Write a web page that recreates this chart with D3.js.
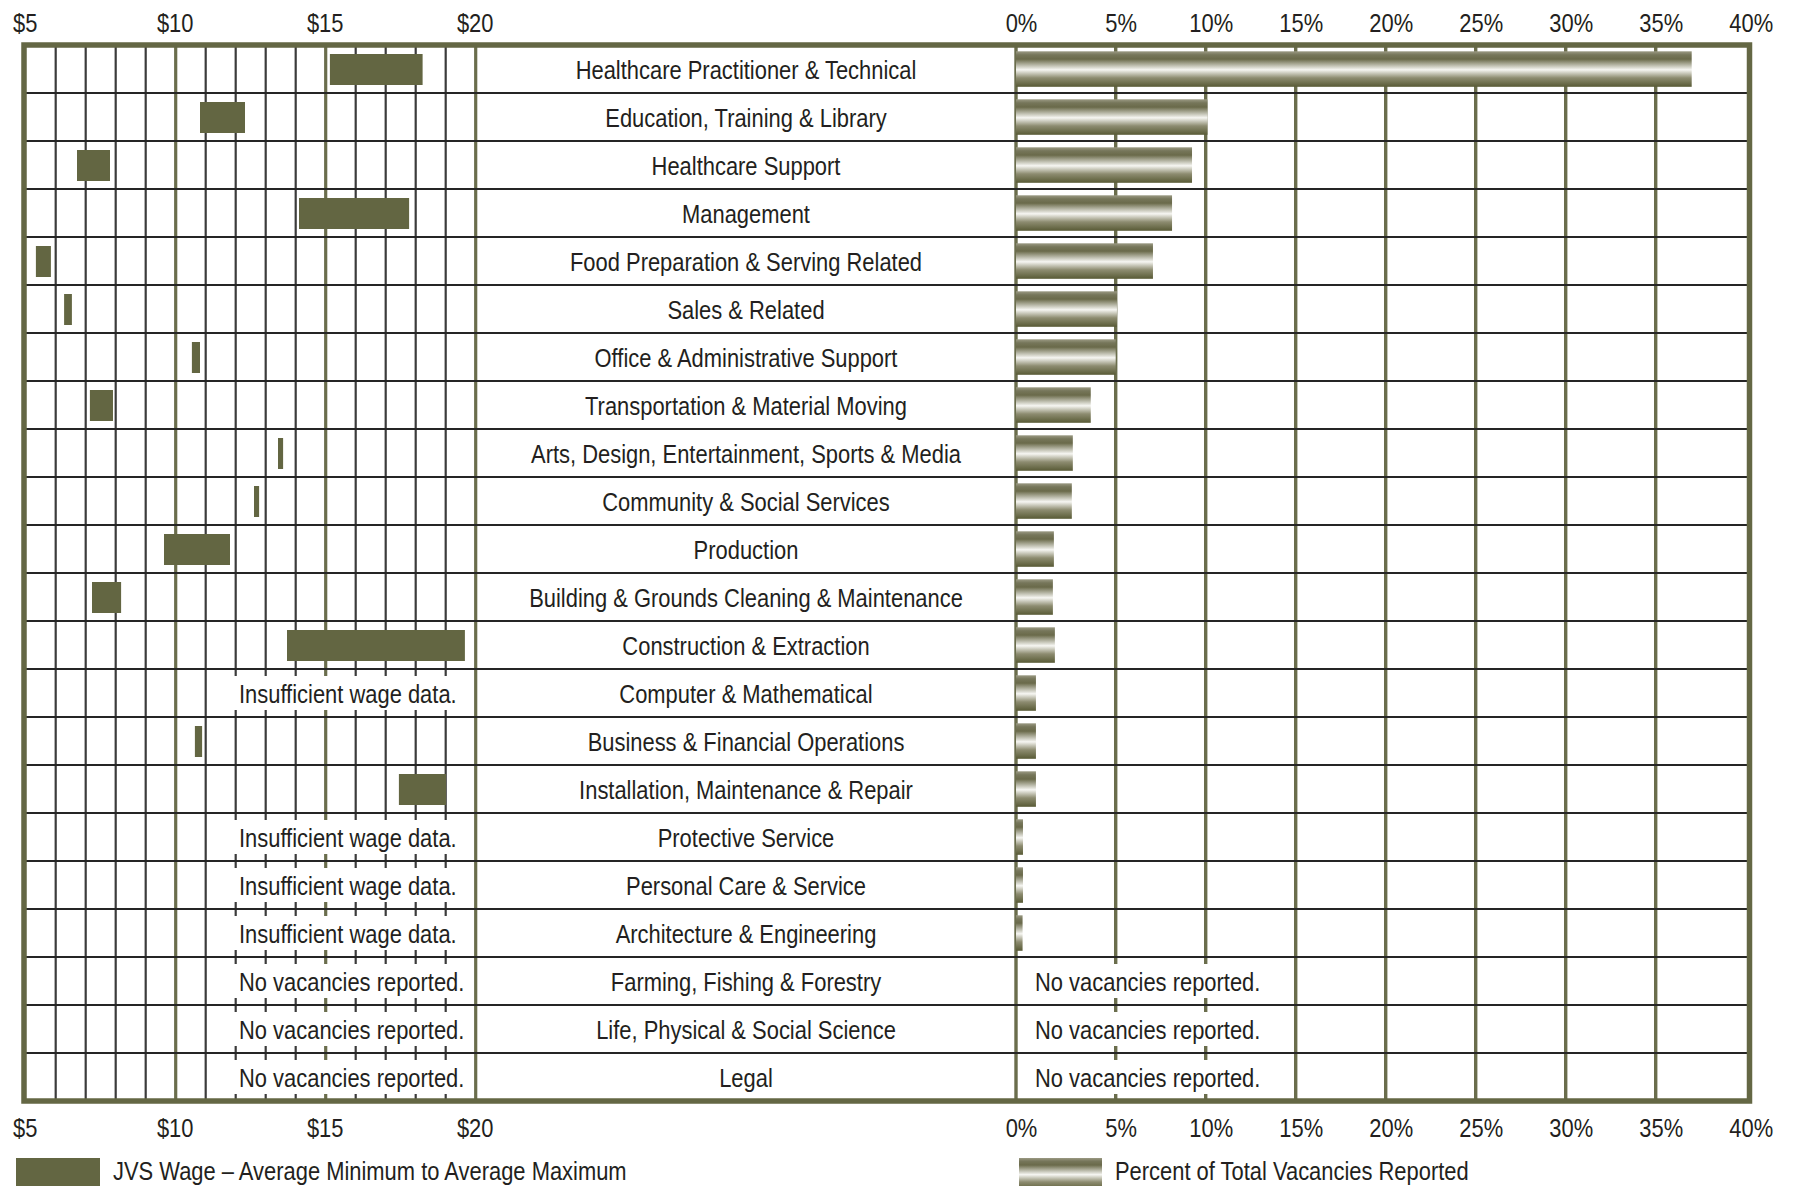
<!DOCTYPE html>
<html>
<head>
<meta charset="utf-8">
<script src="https://cdn.jsdelivr.net/npm/d3@7"></script>
<style>
  html, body { margin: 0; padding: 0; background: #fff; }
  svg { display: block; }
  text { font-family: "Liberation Sans", Arial, Helvetica, sans-serif; fill: #231f20; }
</style>
</head>
<body>
<svg id="chart" width="1796" height="1186"></svg>
<script>
// Occupational groups, ordered by share of vacancies
const categories = [
  "Healthcare Practitioner & Technical",
  "Education, Training & Library",
  "Healthcare Support",
  "Management",
  "Food Preparation & Serving Related",
  "Sales & Related",
  "Office & Administrative Support",
  "Transportation & Material Moving",
  "Arts, Design, Entertainment, Sports & Media",
  "Community & Social Services",
  "Production",
  "Building & Grounds Cleaning & Maintenance",
  "Construction & Extraction",
  "Computer & Mathematical",
  "Business & Financial Operations",
  "Installation, Maintenance & Repair",
  "Protective Service",
  "Personal Care & Service",
  "Architecture & Engineering",
  "Farming, Fishing & Forestry",
  "Life, Physical & Social Science",
  "Legal"
];

// JVS wage range: average minimum and average maximum hourly wage ($)
const wageMin = [15.14, 10.81, 6.71, 14.11, 5.34, 6.28, 10.54, 7.14, 13.41, 12.61, 9.61, 7.21, 13.71, null, 10.64, 17.44, null, null, null, null, null, null];
const wageMax = [18.23, 12.31, 7.81, 17.78, 5.84, 6.54, 10.81, 7.91, 13.58, 12.78, 11.81, 8.18, 19.64, null, 10.88, 19.01, null, null, null, null, null, null];

// Percent of total vacancies reported
const pctVacancies = [37.0, 10.1, 9.24, 8.13, 7.07, 5.07, 5.0, 3.75, 2.85, 2.8, 1.9, 1.85, 1.95, 1.0, 1.0, 1.0, 0.35, 0.35, 0.33, null, null, null];

// Notes shown where there is no bar
const wageNotes = [null, null, null, null, null, null, null, null, null, null, null, null, null,
  "Insufficient wage data.", null, null,
  "Insufficient wage data.", "Insufficient wage data.", "Insufficient wage data.",
  "No vacancies reported.", "No vacancies reported.", "No vacancies reported."];
const pctNotes = [null, null, null, null, null, null, null, null, null, null, null, null, null,
  null, null, null, null, null, null,
  "No vacancies reported.", "No vacancies reported.", "No vacancies reported."];

// Axis ticks
const wageTicks = [5, 10, 15, 20];
const wageGrid = d3.range(6, 21);
const pctTicks = [0, 5, 10, 15, 20, 25, 30, 35, 40];
const pctGrid = [0, 5, 10, 15, 20, 25, 30, 35];

// Legend entries
const legendWage = "JVS Wage \u2013 Average Minimum to Average Maximum";
const legendPct = "Percent of Total Vacancies Reported";

const OLIVE = "#636642";
const FRAME = "#646744";
const FS = 25.5;   // font size
const SX = 0.86;   // horizontal squeeze for a condensed look

const svg = d3.select("#chart");

const plotTop = 45, plotBottom = 1101;
const frameL = 24, frameR = 1749.5;

const xWage = d3.scaleLinear().domain([5, 20]).range([25.7, 475.7]);
const xPct = d3.scaleLinear().domain([0, 5, 40]).range([1016, 1115.7, 1745.7]);
const y = d3.scaleBand().domain(categories).range([plotTop, plotBottom]);
const rowH = y.bandwidth();

// place a condensed text at (x, y)
const at = (x, yy) => `translate(${x},${yy}) scale(${SX},1)`;

// Gradient for the vacancy bars
const defs = svg.append("defs");
const grad = defs.append("linearGradient")
  .attr("id", "barGrad").attr("x1", 0).attr("y1", 0).attr("x2", 0).attr("y2", 1);
[
  [0, "#9b9a84"], [0.1, "#76765a"], [0.22, "#6a6a4a"], [0.52, "#f6f6f2"],
  [0.75, "#8d8c70"], [1, "#585a35"]
].forEach(([o, c]) => grad.append("stop").attr("offset", o).attr("stop-color", c));

const grid = svg.append("g");

// Wage grid: minor dollar lines and major $5 lines
grid.selectAll("line.wage").data(wageGrid).join("line")
  .attr("class", "wage")
  .attr("x1", d => xWage(d)).attr("x2", d => xWage(d))
  .attr("y1", plotTop).attr("y2", plotBottom)
  .attr("stroke", d => d % 5 === 0 ? "#6a6d4c" : "#3b3b3b")
  .attr("stroke-width", d => d % 5 === 0 ? 3.2 : 2.2);

// Percent grid
grid.selectAll("line.pct").data(pctGrid).join("line")
  .attr("class", "pct")
  .attr("x1", d => xPct(d)).attr("x2", d => xPct(d))
  .attr("y1", plotTop).attr("y2", plotBottom)
  .attr("stroke", "#6a6d4c")
  .attr("stroke-width", 3.4);

// White backing behind the notes, leaving short grid ticks at the row edges
const noteRows = svg.append("g");
categories.forEach((c, i) => {
  if (wageNotes[i]) {
    noteRows.append("rect")
      .attr("x", xWage(11) + 6).attr("y", y(c) + 7)
      .attr("width", xWage(19.8) - xWage(11) - 6).attr("height", rowH - 14)
      .attr("fill", "#fff");
  }
  if (pctNotes[i]) {
    noteRows.append("rect")
      .attr("x", xPct(0) + 3).attr("y", y(c) + 7)
      .attr("width", xPct(13.5) - xPct(0) - 3).attr("height", rowH - 14)
      .attr("fill", "#fff");
  }
});

// Row separators
svg.append("g").selectAll("line").data(categories.slice(1)).join("line")
  .attr("x1", frameL).attr("x2", frameR)
  .attr("y1", d => y(d)).attr("y2", d => y(d))
  .attr("stroke", "#252525").attr("stroke-width", 2.2);

// Wage range bars
const wageIdx = categories.map((c, i) => i).filter(i => wageMin[i] != null);
svg.append("g").selectAll("rect").data(wageIdx).join("rect")
  .attr("x", i => xWage(wageMin[i]))
  .attr("width", i => xWage(wageMax[i]) - xWage(wageMin[i]))
  .attr("y", i => y(categories[i]) + 9)
  .attr("height", 31)
  .attr("fill", OLIVE);

// Vacancy share bars
const pctIdx = categories.map((c, i) => i).filter(i => pctVacancies[i] != null);
svg.append("g").selectAll("rect").data(pctIdx).join("rect")
  .attr("x", xPct(0))
  .attr("width", i => xPct(pctVacancies[i]) - xPct(0))
  .attr("y", i => y(categories[i]) + 6.3)
  .attr("height", 35.5)
  .attr("fill", "url(#barGrad)");

// Outer frame
svg.append("rect")
  .attr("x", frameL).attr("y", plotTop)
  .attr("width", frameR - frameL).attr("height", plotBottom - plotTop)
  .attr("fill", "none").attr("stroke", FRAME).attr("stroke-width", 5.5);

// Category labels
svg.append("g").selectAll("text").data(categories).join("text")
  .attr("transform", d => at(746, y(d) + rowH / 2 + 9.5))
  .attr("text-anchor", "middle")
  .attr("font-size", FS)
  .text(d => d);

// Notes
svg.append("g").selectAll("text")
  .data(categories.map((c, i) => i).filter(i => wageNotes[i])).join("text")
  .attr("transform", i => at(239, y(categories[i]) + rowH / 2 + 9.5))
  .attr("font-size", FS)
  .text(i => wageNotes[i]);
svg.append("g").selectAll("text")
  .data(categories.map((c, i) => i).filter(i => pctNotes[i])).join("text")
  .attr("transform", i => at(1035, y(categories[i]) + rowH / 2 + 9.5))
  .attr("font-size", FS)
  .text(i => pctNotes[i]);

// Axes (labels only)
function styleAxis(g, shift) {
  g.select(".domain").remove();
  g.selectAll(".tick line").remove();
  g.attr("font-family", null).attr("font-size", null);
  g.selectAll(".tick text")
    .attr("y", 0).attr("dy", 0)
    .attr("transform", `translate(${shift},0) scale(${SX},1)`)
    .attr("font-size", FS)
    .attr("fill", "#231f20");
}
svg.append("g").attr("transform", "translate(0,32)")
  .call(d3.axisTop(xWage).tickValues(wageTicks).tickFormat(d => "$" + d).tickSize(0).tickPadding(0))
  .call(styleAxis, -1);
svg.append("g").attr("transform", "translate(0,1137)")
  .call(d3.axisBottom(xWage).tickValues(wageTicks).tickFormat(d => "$" + d).tickSize(0).tickPadding(0))
  .call(styleAxis, -1);
svg.append("g").attr("transform", "translate(0,32)")
  .call(d3.axisTop(xPct).tickValues(pctTicks).tickFormat(d => d + "%").tickSize(0).tickPadding(0))
  .call(styleAxis, 5);
svg.append("g").attr("transform", "translate(0,1137)")
  .call(d3.axisBottom(xPct).tickValues(pctTicks).tickFormat(d => d + "%").tickSize(0).tickPadding(0))
  .call(styleAxis, 5);

// Legend
svg.append("rect").attr("x", 16).attr("y", 1158).attr("width", 84).attr("height", 32).attr("fill", OLIVE);
svg.append("text").attr("transform", at(113, 1180)).attr("font-size", FS).text(legendWage);
svg.append("rect").attr("x", 1019).attr("y", 1158).attr("width", 83).attr("height", 32).attr("fill", "url(#barGrad)");
svg.append("text").attr("transform", at(1115, 1180)).attr("font-size", FS).text(legendPct);
</script>
</body>
</html>
